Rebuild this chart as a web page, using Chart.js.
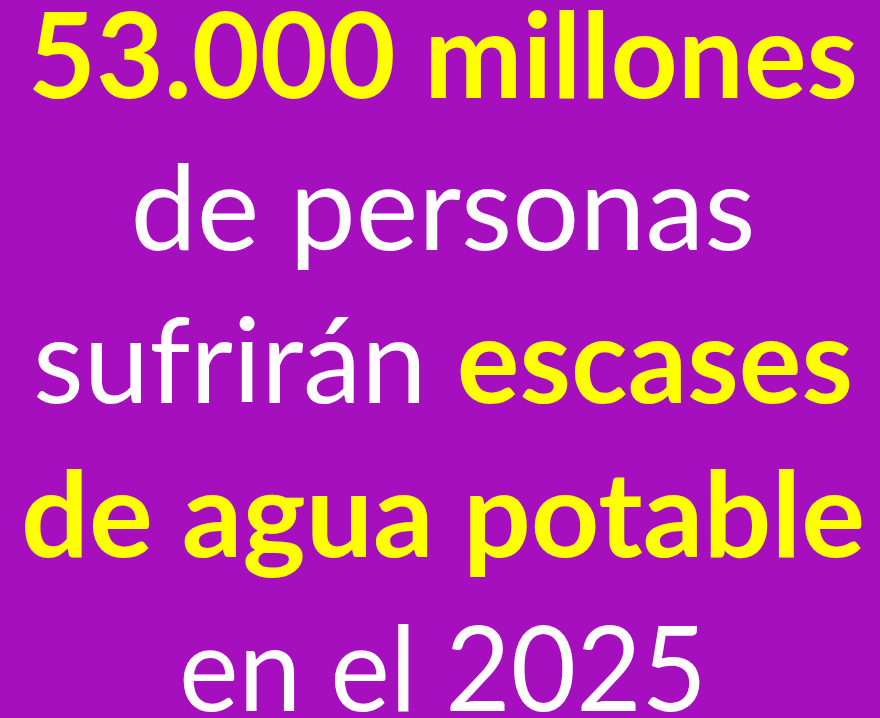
<!DOCTYPE html>
<html>
<head>
<meta charset="utf-8">
<script src="https://cdn.jsdelivr.net/npm/chart.js@4.4.1/dist/chart.umd.min.js"></script>
<style>
  html, body { margin: 0; padding: 0; background: #a50fbe; }
  #wrap { width: 880px; height: 718px; }
</style>
</head>
<body>
<div id="wrap"><canvas id="poster"></canvas></div>
<script>
// texto de cada línea, partido en segmentos de color
const lineTexts = [
  ["53.000 millones"],
  ["de personas"],
  ["sufrirán ", "escases"],
  ["de agua potable"],
  ["en el 2025"]
];
const lineColors = [
  ["#ffff00"],
  ["#ffffff"],
  ["#ffffff", "#ffff00"],
  ["#ffff00"],
  ["#ffffff"]
];
const lineBold = [
  [true],
  [false],
  [false, true],
  [true],
  [false]
];

// posición de cada línea
const baselines = [98, 250, 403, 557, 711];
const lineWidths = [830, 625, 820, 844, 528];
const centerX = 443;
const ascHeight = 87;
const fontFamily = "Lato, 'Open Sans', sans-serif";
const bgColor = "#a50fbe";

function fontFor(bold, size) {
  return (bold ? "bold " : "") + size + "px " + fontFamily;
}

const posterText = {
  id: "posterText",
  beforeDraw(chart) {
    const ctx = chart.ctx;
    ctx.save();
    ctx.fillStyle = bgColor;
    ctx.fillRect(0, 0, chart.width, chart.height);
    ctx.restore();
  },
  afterDraw(chart) {
    const ctx = chart.ctx;
    ctx.save();
    ctx.font = fontFor(false, 100);
    const ref = ctx.measureText("l").actualBoundingBoxAscent;
    const size = Math.round(100 * ascHeight / ref);
    ctx.textBaseline = "alphabetic";
    ctx.textAlign = "left";

    lineTexts.forEach((segs, i) => {
      let total = 0;
      const widths = segs.map((s, j) => {
        ctx.font = fontFor(lineBold[i][j], size);
        const w = ctx.measureText(s).width;
        total += w;
        return w;
      });
      const sx = lineWidths[i] / total;
      ctx.save();
      ctx.translate(centerX - lineWidths[i] / 2, baselines[i]);
      ctx.scale(sx, 1);
      let x = 0;
      segs.forEach((s, j) => {
        ctx.font = fontFor(lineBold[i][j], size);
        ctx.fillStyle = lineColors[i][j];
        ctx.fillText(s, x, 0);
        x += widths[j];
      });
      ctx.restore();
    });
    ctx.restore();
  }
};

new Chart(document.getElementById("poster"), {
  type: "bar",
  data: { labels: [], datasets: [] },
  options: {
    responsive: true,
    maintainAspectRatio: false,
    animation: false,
    events: [],
    plugins: {
      legend: { display: false },
      tooltip: { enabled: false }
    },
    scales: {
      x: { display: false },
      y: { display: false }
    }
  },
  plugins: [posterText]
});
</script>
</body>
</html>
